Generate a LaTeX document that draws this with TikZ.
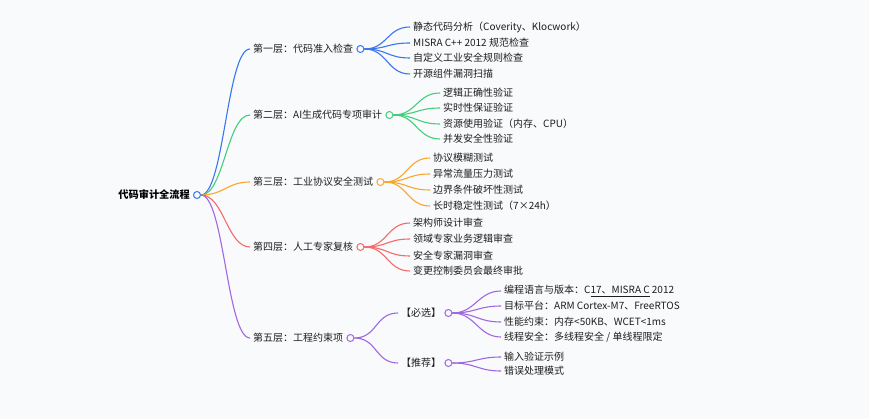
\documentclass[tikz,border=0pt]{standalone}
\usepackage{fontspec}
\setmainfont{Noto Sans CJK SC}
\usepackage{tikz}
\usetikzlibrary{positioning}
\definecolor{fond}{RGB}{249,250,252}
\definecolor{texte}{RGB}{30,30,30}
\definecolor{bleu}{RGB}{58,118,240}
\definecolor{vert}{RGB}{68,206,124}
\definecolor{orange}{RGB}{249,166,46}
\definecolor{rouge}{RGB}{246,106,106}
\definecolor{violet}{RGB}{160,104,224}
\newcommand{\branche}[3]{\draw[lien=#3] (#1.east) .. controls +(23,0) and +(-23,0) .. (#2.west);}

\begin{document}
\begin{tikzpicture}[x=1pt, y=-1pt,
  font=\fontsize{10}{12}\selectfont,
  txt/.style={anchor=west, inner xsep=3pt, inner ysep=1pt, text=texte},
  rond/.style={circle, draw=#1, fill=fond, line width=1pt, minimum size=7pt, inner sep=0pt},
  lien/.style={draw=#1, line width=1.1pt}]
% Fond et cadre
\fill[fond] (0,0) rectangle (869,419);
\useasboundingbox (0,0) rectangle (869,419);

% Racine
\node[rond=bleu] (oR) at (197,195) {};
\node[left=0pt of oR, inner xsep=3pt, text=black, font=\fontsize{10.2}{12}\selectfont\bfseries] (racine) {代码审计全流程};

% Les cinq couches
\node[txt] (c1) at (250,49) {第一层：代码准入检查};
\node[rond=bleu, right=0pt of c1] (o1) {};
\node[txt] (c2) at (250,115) {第二层：AI生成代码专项审计};
\node[rond=vert, right=0pt of c2] (o2) {};
\node[txt] (c3) at (250,182) {第三层：工业协议安全测试};
\node[rond=orange, right=0pt of c3] (o3) {};
\node[txt] (c4) at (250,247) {第四层：人工专家复核};
\node[rond=rouge, right=0pt of c4] (o4) {};
\node[txt] (c5) at (250,338) {第五层：工程约束项};
\node[rond=violet, right=0pt of c5] (o5) {};

\branche{oR}{c1}{bleu}
\branche{oR}{c2}{vert}
\branche{oR}{c3}{orange}
\branche{oR}{c4}{rouge}
\branche{oR}{c5}{violet}

% Couche 1
\node[txt] (f11) at (410,27) {静态代码分析（Coverity、Klocwork）};
\node[txt] (f12) at (410,43) {MISRA C++ 2012 规范检查};
\node[txt] (f13) at (410,58) {自定义工业安全规则检查};
\node[txt] (f14) at (410,74) {开源组件漏洞扫描};
\branche{o1}{f11}{bleu}
\branche{o1}{f12}{bleu}
\branche{o1}{f13}{bleu}
\branche{o1}{f14}{bleu}

% Couche 2
\node[txt] (f21) at (440,93) {逻辑正确性验证};
\node[txt] (f22) at (440,108) {实时性保证验证};
\node[txt] (f23) at (440,124) {资源使用验证（内存、CPU）};
\node[txt] (f24) at (440,139) {并发安全性验证};
\branche{o2}{f21}{vert}
\branche{o2}{f22}{vert}
\branche{o2}{f23}{vert}
\branche{o2}{f24}{vert}

% Couche 3
\node[txt] (f31) at (430,158) {协议模糊测试};
\node[txt] (f32) at (430,174) {异常流量压力测试};
\node[txt] (f33) at (430,190) {边界条件破坏性测试};
\node[txt] (f34) at (430,206) {长时稳定性测试（7×24h）};
\branche{o3}{f31}{orange}
\branche{o3}{f32}{orange}
\branche{o3}{f33}{orange}
\branche{o3}{f34}{orange}

% Couche 4
\node[txt] (f41) at (410,223) {架构师设计审查};
\node[txt] (f42) at (410,239) {领域专家业务逻辑审查};
\node[txt] (f43) at (410,256) {安全专家漏洞审查};
\node[txt] (f44) at (410,271) {变更控制委员会最终审批};
\branche{o4}{f41}{rouge}
\branche{o4}{f42}{rouge}
\branche{o4}{f43}{rouge}
\branche{o4}{f44}{rouge}

% Couche 5 : deux sous-groupes
\node[txt] (g1) at (398,313) {【必选】};
\node[rond=violet, right=0pt of g1] (og1) {};
\node[txt] (g2) at (398,363) {【推荐】};
\node[rond=violet, right=0pt of g2] (og2) {};
\branche{o5}{g1}{violet}
\branche{o5}{g2}{violet}

\node[txt] (f51) at (501,291) {编程语言与版本：C\underline{17、MISRA C} 2012};
\node[txt] (f52) at (501,306) {目标平台：ARM Cortex-M7、FreeRTOS};
\node[txt] (f53) at (501,322) {性能约束：内存<50KB、WCET<1ms};
\node[txt] (f54) at (501,337) {线程安全：多线程安全 / 单线程限定};
\branche{og1}{f51}{violet}
\branche{og1}{f52}{violet}
\branche{og1}{f53}{violet}
\branche{og1}{f54}{violet}

\node[txt] (f55) at (501,357) {输入验证示例};
\node[txt] (f56) at (501,371) {错误处理模式};
\branche{og2}{f55}{violet}
\branche{og2}{f56}{violet}
\end{tikzpicture}
\end{document}
